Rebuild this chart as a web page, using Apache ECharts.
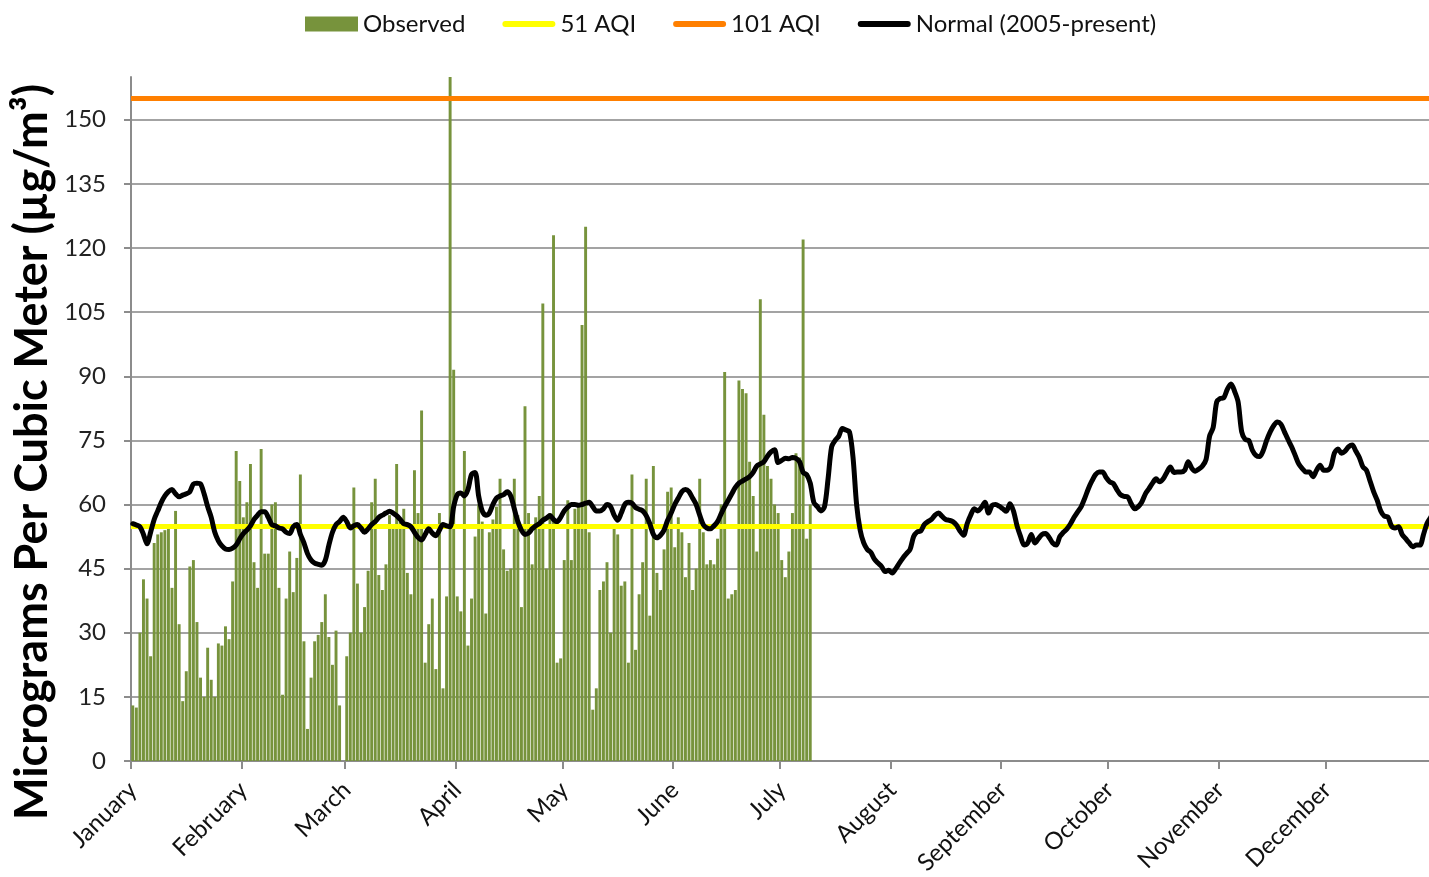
<!DOCTYPE html>
<html>
<head>
<meta charset="utf-8">
<title>Daily PM10 Concentrations</title>
<script src="https://cdn.jsdelivr.net/npm/echarts@6/dist/echarts.min.js"></script>
<style>
  html, body { margin: 0; padding: 0; background: #fff; }
  #chart { width: 1429px; height: 877px; }
</style>
</head>
<body>
<div id="chart"></div>
<script>
// Calendar (leap year) used for the daily category axis
const monthNames = ['January', 'February', 'March', 'April', 'May', 'June',
  'July', 'August', 'September', 'October', 'November', 'December'];
const monthDays = [31, 29, 31, 30, 31, 30, 31, 31, 30, 31, 30, 31];

// Observed daily concentrations (µg/m³), Jan 1 onward; null = no sample
const observed = [
  13, 12.5, 30, 42.5, 38, 24.5, 51, 53, 53.5, 54, 54.5, 40.5, 58.5, 32, 14, 21,
  45.5, 47, 32.5, 19.5, 15, 26.5, 19, 15, 27.5, 27, 31.5, 28.5, 42, 72.5, 65.5,
  57, 60.5, 69.5, 46.5, 40.5, 73, 48.5, 48.5, 60, 60.5, 40.5, 15.5, 38, 49, 39.5,
  47.5, 67, 28, 7.5, 19.5, 28, 29.5, 32.5, 39, 29, 22.5, 30.5, 13, null,
  24.5, 30, 64, 41.5, 30, 36, 44.5, 60.5, 66, 43.5, 40, 46, 57.5, 55, 69.5, 56,
  59, 44, 39, 68, 58, 82, 23, 32, 38, 21.5, 58, 17, 38.5, 170, 91.5, 38.5, 35,
  72.5, 27, 38, 52.5,
  60, 56, 34.5, 53.5, 56.5, 59.5, 66, 49.5, 44.5, 45, 66, 57.5, 36, 83, 58, 46,
  57, 62, 107, 45, 58, 123, 23, 24, 47, 61, 47, 59, 60, 102, 125, 53.5,
  12, 17, 40, 42, 46.5, 30, 54.5, 53, 41, 42, 23, 67, 26, 39, 46.5, 66, 34, 69,
  44, 40, 49.5, 63, 64, 50, 57, 53.5, 43, 51, 40, 45, 66, 53.5,
  46, 47, 46, 52, 60, 91, 38, 39, 40, 89, 87, 86, 70, 62, 49, 108, 81, 69, 66,
  60, 58, 47, 43, 49, 58, 72, 71, 122, 52, 60
];

// Daily normal (2005-present), one value per day of the year
const normal = [
  55.5, 55.2, 54.8, 53, 50.8, 53.5, 56.5, 58.5, 60.5, 62, 63, 63.5, 62.5, 61.8, 62.2, 62.5,
  63, 64.8, 65, 64.8, 62.5, 59.5, 57, 53.5, 51.5, 50.3, 49.6, 49.5, 49.8, 50.5, 52, 53.2,
  54, 55, 56.5, 57.5, 58.3, 58.3, 57, 55.3, 55, 54.5, 54.3, 53.5, 53.2, 54.8, 55.3, 53,
  51, 48.5, 47, 46.3, 46, 45.8, 47, 50.5, 53.5, 55.3, 56, 57, 56, 54.5, 55, 55.3,
  54.5, 53.5, 54.3, 55.3, 56, 57, 57.5, 58, 58.4, 58, 57.4, 56.5, 55.5, 55.3, 54.8, 53.5,
  52.3, 51.7, 53, 54.3, 53.3, 52.7, 54, 55.3, 55, 54.8, 59.5, 62.3, 62.7, 62, 63.5, 67, 67.5,
  62, 58.5, 57.5, 58, 60, 61.5, 62, 62.3, 63, 62, 59, 56, 54, 53, 53.3, 54.3,
  55, 55.5, 56.3, 56.8, 57.4, 56.5, 56, 57, 58.5, 59.4, 60, 60, 59.8, 60, 60.3, 60.5,
  59.5, 58.5, 58.5, 59, 60, 59.5, 57.5, 56.3, 58, 60, 60.5, 60.3, 59.3, 58.9, 58.5, 57.4,
  55.5, 53, 52.2, 52.8, 54, 56.3, 58, 60, 61.5, 63, 63.5, 63, 61.5, 60, 57.5, 55.3,
  54.5, 54.3, 55, 56, 57.8, 59.5, 61, 62.5, 64, 65,
  65.5, 66, 66.5, 67.5, 69, 69.5, 70, 71.3, 72.3, 72.8,
  69.8, 70.3, 70.8, 70.7, 71, 70.8, 70, 67.5, 67,
  65, 60.5, 59.5, 58.5, 59.5, 66, 73.5, 75, 76, 77.8,
  77.4, 77, 71, 60, 54, 51, 49.5, 48.8, 47.2, 46.3,
  45.5, 44.3, 44.6, 44, 45, 46.3, 47.5, 48.5, 49.5, 52.5,
  53.6, 53.8, 55.3, 56, 56.5, 57.5, 58, 57.2, 56.5, 56.3,
  56, 55.2, 53.8, 52.8, 55.5, 57.5, 59, 58.5, 59.3, 60.5,
  58, 59.8, 60, 59.6, 59, 58.4, 60.2, 58.5, 55, 52.5,
  50.5, 51, 53, 51, 52, 53, 53.2, 52.3, 51, 50.5,
  52.5, 53.5, 54.3, 55.5, 57, 58.3, 59.5, 61.5, 63.7, 65.5,
  67, 67.6, 67.6, 66.3, 65.3, 64.9, 63.5, 62.3, 61.9, 61.8,
  60.2, 59, 59.5, 60.6, 62.5, 63.7, 65, 66, 65.3, 66,
  67.5, 68.8, 67.5, 67.6, 67.6, 68, 70, 68.5, 67.8, 68.3,
  69, 70.5, 76, 78, 84, 84.8, 85, 87, 88.2, 86.5,
  84, 77, 75.2, 75, 72.7, 71.5, 71.2, 72.5, 75, 77,
  78.5, 79.3, 78.8, 77, 75.2, 73.5, 71.5, 69.5, 68.4, 67.6,
  67.6, 66.5, 68, 69.2, 68, 68, 68.8, 72, 73, 72,
  72.5, 73.5, 73.9, 72.5, 71, 68.8, 68, 65.5, 63, 61,
  58.5, 57.3, 57.1, 55, 54.5, 54.8, 53, 52, 51, 50.1,
  50.5, 50.5, 53, 55.6, 57, 58
];

// AQI breakpoints expressed as concentrations (µg/m³)
const aqi51 = 55;
const aqi101 = 155;

// Value axis ticks
const yMin = 0;
const yMax = 160;
const yStep = 15;

// Build one category per day and remember where each month begins
const days = [];
const monthStart = new Set();
monthNames.forEach((name, m) => {
  monthStart.add(days.length);
  for (let d = 1; d <= monthDays[m]; d++) days.push(name + ' ' + d);
});

const FONT = 'Lato';
const GRID_GRAY = '#a3a3a3';
const AXIS_GRAY = '#8c8c8c';
// Thick rounded bar used as the legend key for the line series
const LINE_KEY = 'path://M3,0 L51,0 A3,3 0 0 1 51,6 L3,6 A3,3 0 0 1 3,0 Z';

const chart = echarts.init(document.getElementById('chart'), null, { renderer: 'canvas' });

chart.setOption({
  animation: false,
  backgroundColor: '#ffffff',
  // the plot runs slightly past the right edge of the page
  grid: {
    left: 131, width: 1305, top: 77, bottom: 116,
    containLabel: false, outerBoundsMode: 'none'
  },
  legend: {
    top: 7,
    left: 300,
    itemWidth: 53,
    itemHeight: 15,
    itemGap: 37,
    textStyle: { fontFamily: FONT, fontSize: 24, color: '#111' },
    data: [
      { name: 'Observed', icon: 'rect' },
      { name: '51 AQI', icon: LINE_KEY },
      { name: '101 AQI', icon: LINE_KEY },
      { name: 'Normal (2005-present)', icon: LINE_KEY }
    ]
  },
  graphic: [{
    type: 'text',
    x: 32,
    y: 452,
    rotation: Math.PI / 2,
    style: {
      text: 'Micrograms Per Cubic Meter (µg/m³)',
      fontFamily: FONT,
      fontWeight: 'bold',
      fontSize: 45,
      fill: '#000',
      align: 'center',
      verticalAlign: 'middle'
    }
  }],
  xAxis: {
    type: 'category',
    data: days,
    boundaryGap: true,
    axisLine: { show: true, lineStyle: { color: AXIS_GRAY, width: 2 } },
    axisTick: {
      show: true,
      length: 8,
      interval: (i) => monthStart.has(i),
      lineStyle: { color: AXIS_GRAY, width: 2 }
    },
    axisLabel: {
      interval: (i) => monthStart.has(i),
      formatter: (v) => v.split(' ')[0],
      rotate: 45,
      margin: 25,
      fontFamily: FONT,
      fontSize: 24,
      color: '#111'
    },
    splitLine: { show: false }
  },
  yAxis: {
    type: 'value',
    min: yMin,
    max: yMax,
    interval: yStep,
    axisLine: { show: true, lineStyle: { color: AXIS_GRAY, width: 2 } },
    axisTick: { show: true, length: 7, lineStyle: { color: AXIS_GRAY, width: 2 } },
    axisLabel: {
      showMaxLabel: false,
      margin: 25,
      fontFamily: FONT,
      fontSize: 24,
      color: '#222'
    },
    splitLine: { show: true, showMaxLine: false, lineStyle: { color: GRID_GRAY, width: 2 } }
  },
  series: [
    {
      name: 'Observed',
      type: 'bar',
      data: observed,
      barCategoryGap: '18%',
      itemStyle: { color: '#77933c' },
      z: 2
    },
    {
      name: '51 AQI',
      type: 'line',
      data: [],
      symbol: 'none',
      itemStyle: { color: '#ffff00' },
      lineStyle: { color: '#ffff00', width: 5 },
      z: 3,
      markLine: {
        silent: true,
        symbol: ['none', 'none'],
        label: { show: false },
        lineStyle: { color: '#ffff00', width: 5, type: 'solid' },
        data: [{ yAxis: aqi51 }]
      }
    },
    {
      name: '101 AQI',
      type: 'line',
      data: [],
      symbol: 'none',
      itemStyle: { color: '#ff7f00' },
      lineStyle: { color: '#ff7f00', width: 5 },
      z: 3,
      markLine: {
        silent: true,
        symbol: ['none', 'none'],
        label: { show: false },
        lineStyle: { color: '#ff7f00', width: 5, type: 'solid' },
        data: [{ yAxis: aqi101 }]
      }
    },
    {
      name: 'Normal (2005-present)',
      type: 'line',
      data: normal,
      symbol: 'none',
      showSymbol: false,
      smooth: 0.3,
      itemStyle: { color: '#000000' },
      lineStyle: { color: '#000000', width: 5, join: 'round', cap: 'round' },
      z: 5
    }
  ]
});
</script>
</body>
</html>
